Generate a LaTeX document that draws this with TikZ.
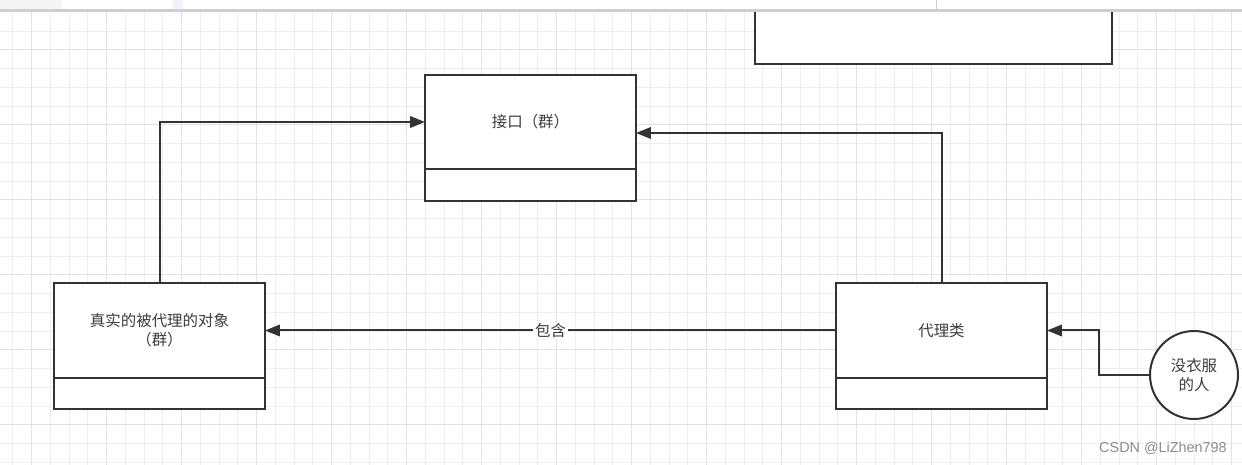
\documentclass[tikz,border=0pt]{standalone}
\usepackage{fontspec}
\setmainfont{Noto Sans CJK SC}
\newfontfamily\wmfont{Liberation Sans}
\usetikzlibrary{arrows.meta,positioning}
\definecolor{ink}{HTML}{333333}
\definecolor{txt}{HTML}{3C3C3C}
\definecolor{gridminor}{HTML}{EEEEEE}
\definecolor{gridmajor}{HTML}{E2E2E2}
\definecolor{barline}{HTML}{CFCFCF}
\definecolor{wmgray}{HTML}{8C8C8C}

\begin{document}
\begin{tikzpicture}[x=0.02cm, y=-0.02cm,
  cls/.style={draw=ink, line width=0.4mm, outer sep=0pt, fill=white, minimum width=4.22cm, minimum height=1.89cm, inner sep=2pt, align=center, text=txt, font=\fontsize{8.8}{10.8}\selectfont},
  clsfoot/.style={draw=ink, line width=0.4mm, outer sep=0pt, fill=white, minimum width=4.22cm, minimum height=0.63cm, inner sep=0pt},
  actor/.style={draw=ink, line width=0.4mm, fill=white, circle, minimum size=1.76cm, inner sep=0pt, align=center, text=txt, font=\fontsize{8.8}{10.8}\selectfont},
  link/.style={draw=ink, line width=0.4mm, -{Triangle[length=3mm,width=2.3mm]}}]
\useasboundingbox (0,0) rectangle (1242,465);
\fill[white] (0,0) rectangle (1242,465);
% grid
\foreach \k in {0,...,65} \draw[gridminor, line width=0.5pt] ({12.7+18.75*\k},11) -- ++(0,454);
\foreach \k in {0,...,23} \draw[gridminor, line width=0.5pt] (0,{31+18.75*\k}) -- ++(1242,0);
\foreach \k in {1,5,...,65} \draw[gridmajor, line width=0.6pt] ({12.7+18.75*\k},11) -- ++(0,454);
\foreach \k in {1,5,...,21} \draw[gridmajor, line width=0.6pt] (0,{31+18.75*\k}) -- ++(1242,0);
% top strip of the screenshot
\fill[white] (0,0) rectangle (1242,11);
\fill[black!4] (0,0) rectangle (62,11);
\fill[blue!6] (173,0) rectangle (183,11);
\draw[barline, line width=0.5pt] (936,0) -- (936,11);
\filldraw[fill=white, draw=ink, line width=0.4mm] (755,12) -- (755,64) -- (1112,64) -- (1112,12);
\draw[barline, line width=0.6mm] (0,11) -- (1242,11);

\node[cls] at (530.5,122) (iface) {接口（群）};
\node[clsfoot, below=0pt of iface] (iface-b) {};
\node[cls] at (159.5,330.5) (real) {真实的被代理的对象\\（群）};
\node[clsfoot, below=0pt of real] (real-b) {};
\node[cls] at (941.5,330.5) (proxy) {代理类};
\node[clsfoot, below=0pt of proxy] (proxy-b) {};
\node[actor] at (1194,375) (man) {没衣服\\的人};

\draw[link] (real.north) |- (iface.west);
\draw[link] (proxy.north) |- ([yshift=-0.22cm]iface.east);
\draw[link] (proxy.west) -- node[fill=white, text=txt, inner sep=1pt, font=\fontsize{8.8}{10}\selectfont] {包含} (real.east);
\draw[link] (man.west) -- ++(-50,0) |- (proxy.east);

\node[text=wmgray, font=\wmfont\fontsize{8.2}{10}\selectfont, inner sep=0pt] at (1163,448) (mark) {CSDN @LiZhen798};
\end{tikzpicture}
\end{document}
